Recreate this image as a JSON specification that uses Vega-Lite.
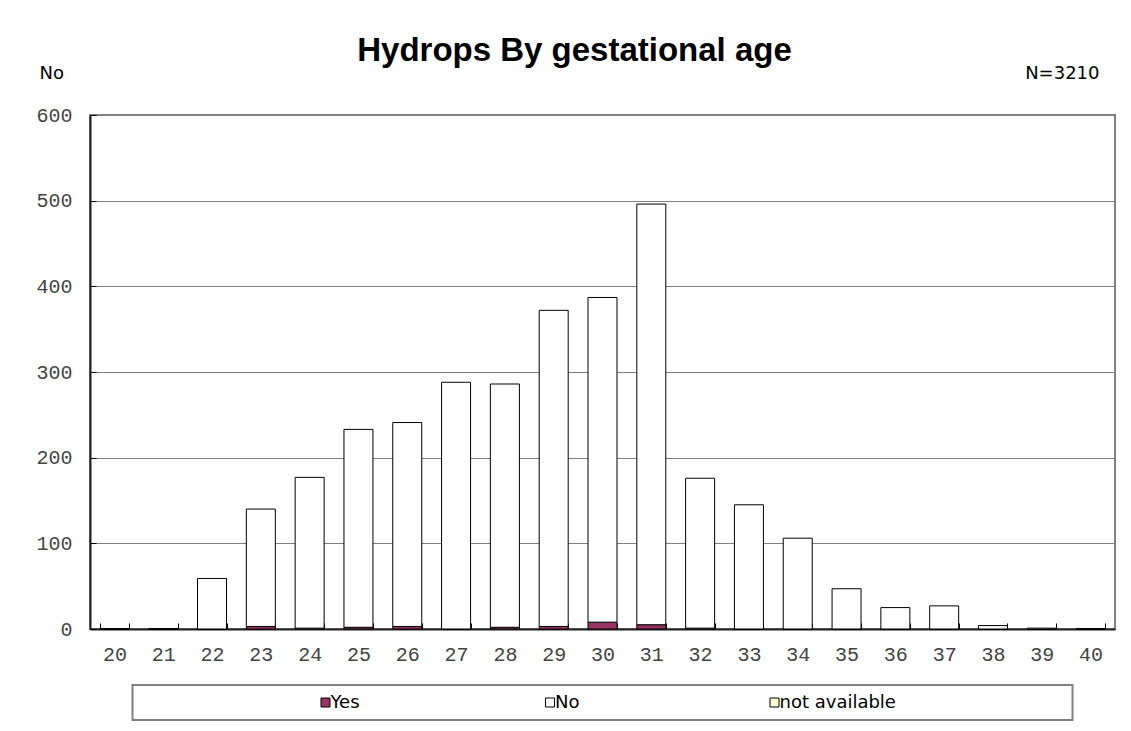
{
  "$schema": "https://vega.github.io/schema/vega-lite/v6.json",
  "padding": {"left": 34, "top": 35, "right": 14, "bottom": 8},
  "background": "#ffffff",
  "title": {"text": "Hydrops By gestational age", "font": "Liberation Sans", "fontSize": 33, "fontWeight": "bold", "color": "#000000", "anchor": "middle", "dx": -1, "offset": -5},
  "config": {"view": {"stroke": "#808080", "strokeWidth": 2}, "font": "DejaVu Sans"},
  "vconcat": [
    {
      "width": 1025,
      "height": 514,
      "data": {"values": [
        {"age": 20, "hydrops": "Yes", "count": 0}, {"age": 20, "hydrops": "No", "count": 0},
        {"age": 21, "hydrops": "Yes", "count": 0}, {"age": 21, "hydrops": "No", "count": 0},
        {"age": 22, "hydrops": "Yes", "count": 0}, {"age": 22, "hydrops": "No", "count": 59},
        {"age": 23, "hydrops": "Yes", "count": 3}, {"age": 23, "hydrops": "No", "count": 137},
        {"age": 24, "hydrops": "Yes", "count": 1}, {"age": 24, "hydrops": "No", "count": 176},
        {"age": 25, "hydrops": "Yes", "count": 2}, {"age": 25, "hydrops": "No", "count": 231},
        {"age": 26, "hydrops": "Yes", "count": 3}, {"age": 26, "hydrops": "No", "count": 238},
        {"age": 27, "hydrops": "Yes", "count": 0}, {"age": 27, "hydrops": "No", "count": 288},
        {"age": 28, "hydrops": "Yes", "count": 2}, {"age": 28, "hydrops": "No", "count": 284},
        {"age": 29, "hydrops": "Yes", "count": 3}, {"age": 29, "hydrops": "No", "count": 369},
        {"age": 30, "hydrops": "Yes", "count": 8}, {"age": 30, "hydrops": "No", "count": 379},
        {"age": 31, "hydrops": "Yes", "count": 5}, {"age": 31, "hydrops": "No", "count": 491},
        {"age": 32, "hydrops": "Yes", "count": 1}, {"age": 32, "hydrops": "No", "count": 175},
        {"age": 33, "hydrops": "Yes", "count": 0}, {"age": 33, "hydrops": "No", "count": 145},
        {"age": 34, "hydrops": "Yes", "count": 0}, {"age": 34, "hydrops": "No", "count": 106},
        {"age": 35, "hydrops": "Yes", "count": 0}, {"age": 35, "hydrops": "No", "count": 47},
        {"age": 36, "hydrops": "Yes", "count": 0}, {"age": 36, "hydrops": "No", "count": 25},
        {"age": 37, "hydrops": "Yes", "count": 0}, {"age": 37, "hydrops": "No", "count": 27},
        {"age": 38, "hydrops": "Yes", "count": 0}, {"age": 38, "hydrops": "No", "count": 4},
        {"age": 39, "hydrops": "Yes", "count": 0}, {"age": 39, "hydrops": "No", "count": 1},
        {"age": 40, "hydrops": "Yes", "count": 0}, {"age": 40, "hydrops": "No", "count": 0}
      ]},
      "layer": [
        {
          "mark": {"type": "bar", "stroke": "#000000", "strokeWidth": 1},
          "encoding": {
            "x": {"field": "age", "type": "ordinal",
              "scale": {"paddingInner": 0.406, "paddingOuter": 0.203},
              "axis": {"title": null, "labelAngle": 0, "labelFont": "Liberation Mono", "labelFontSize": 20, "labelColor": "#444444", "labelPadding": 21, "tickBand": "extent", "tickSize": -6, "tickColor": "#000000", "domainColor": "#222222", "domainWidth": 2, "grid": false}},
            "y": {"field": "count", "type": "quantitative", "stack": "zero",
              "scale": {"domain": [0, 600]},
              "axis": {"title": "No", "titleAngle": 0, "titleAlign": "left", "titleBaseline": "alphabetic", "titleX": -51, "titleY": -37, "titleFont": "DejaVu Sans", "titleFontSize": 18, "titleFontWeight": "normal", "titleColor": "#000000",
                "values": [0, 100, 200, 300, 400, 500, 600], "labelFont": "Liberation Mono", "labelFontSize": 20, "labelColor": "#444444", "labelPadding": 24, "tickSize": -6, "tickColor": "#000000", "domainColor": "#222222", "domainWidth": 2, "grid": true, "gridColor": "#808080", "gridWidth": 1}},
            "color": {"field": "hydrops", "type": "nominal", "sort": ["Yes", "No", "not available"],
              "scale": {"domain": ["Yes", "No", "not available"], "range": ["#993366", "#FFFFFF", "#FFFFCC"]}, "legend": null}
          }
        },
        {
          "mark": {"type": "point", "opacity": 0},
          "encoding": {
            "y": {"field": "count", "type": "quantitative",
              "axis": {"orient": "right", "title": "N=3210", "titleAngle": 0, "titleAlign": "right", "titleBaseline": "alphabetic", "titleX": -16, "titleY": -37, "titleFont": "DejaVu Sans", "titleFontSize": 18, "titleFontWeight": "normal", "titleColor": "#000000", "labels": false, "ticks": false, "domain": false, "grid": false}}
          }
        }
      ],
      "resolve": {"axis": {"y": "independent"}}
    },
    {
      "width": 940,
      "height": 35,
      "data": {"values": [{"label": "Yes"}, {"label": "No"}, {"label": "not available"}]},
      "layer": [
        {
          "mark": {"type": "square", "size": 81, "stroke": "#000000", "strokeWidth": 1, "opacity": 1},
          "encoding": {
            "x": {"field": "label", "type": "nominal", "scale": {"type": "point", "padding": 0, "range": [193, 642], "domain": ["Yes", "No", "not available"]}, "axis": null},
            "fill": {"field": "label", "type": "nominal", "scale": {"domain": ["Yes", "No", "not available"], "range": ["#993366", "#FFFFFF", "#FFFFCC"]}, "legend": null}
          }
        },
        {
          "mark": {"type": "text", "align": "left", "baseline": "middle", "dx": 5, "font": "DejaVu Sans", "fontSize": 18, "color": "#000000"},
          "encoding": {
            "x": {"field": "label", "type": "nominal", "scale": {"type": "point", "padding": 0, "range": [193, 642], "domain": ["Yes", "No", "not available"]}, "axis": null},
            "text": {"field": "label"}
          }
        }
      ]
    }
  ],
  "spacing": 56,
  "center": true,
  "bounds": "flush"
}
